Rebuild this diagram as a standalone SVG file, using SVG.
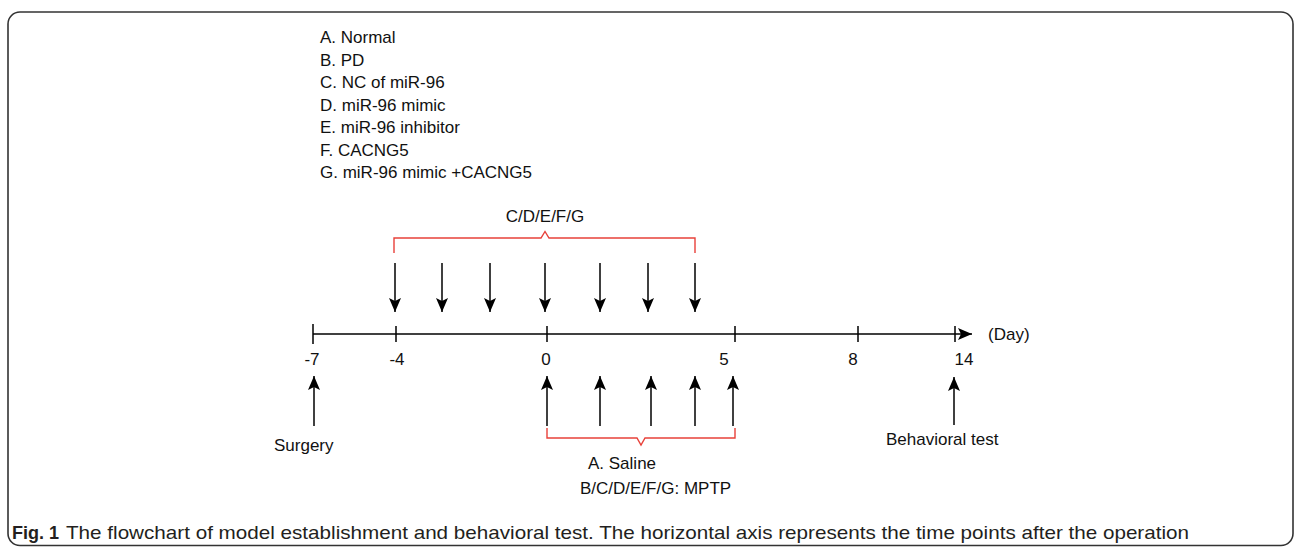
<svg xmlns="http://www.w3.org/2000/svg" width="1295" height="548" viewBox="0 0 1295 548">
<defs>
<style>
text{font-family:"Liberation Sans",Arial,sans-serif;font-size:17px;fill:#111}
.ln{stroke:#000;stroke-width:1.5;fill:none}
.red{stroke:#e8413a;stroke-width:1.4;fill:none}
.cap{font-size:19px;fill:#231f20}
.capb{font-size:18px;font-weight:bold;fill:#231f20}
</style>
<marker id="ah" markerUnits="userSpaceOnUse" viewBox="0 0 14 12" markerWidth="14" markerHeight="12" refX="14" refY="6" orient="auto">
<path d="M0,0 L14,6 L0,12 L3,6 Z" fill="#000"/>
</marker>
</defs>
<rect x="8" y="12" width="1285" height="533.5" rx="12" ry="12" fill="#fff" stroke="#333" stroke-width="1.6"/>

<g id="legend">
<text x="320" y="43">A. Normal</text>
<text x="320" y="65.5">B. PD</text>
<text x="320" y="88">C. NC of miR-96</text>
<text x="320" y="110.5">D. miR-96 mimic</text>
<text x="320" y="133">E. miR-96 inhibitor</text>
<text x="320" y="155.5">F. CACNG5</text>
<text x="320" y="178">G. miR-96 mimic +CACNG5</text>
</g>

<g id="axis">
<line class="ln" x1="313" y1="334" x2="972" y2="334" marker-end="url(#ah)"/>
<path class="ln" d="M313,324V344M396,326V342M547,326V342M735,326V342M858,326V342M955,326V342"/>
<text x="988" y="340">(Day)</text>
<text x="312" y="365" text-anchor="middle">-7</text>
<text x="397" y="365" text-anchor="middle">-4</text>
<text x="546" y="365" text-anchor="middle">0</text>
<text x="724" y="365" text-anchor="middle">5</text>
<text x="853" y="365" text-anchor="middle">8</text>
<text x="964" y="365" text-anchor="middle">14</text>
</g>

<g id="injections-top">
<path class="red" d="M394,253V238H541L545,231.5L549,238H695V253"/>
<text x="545" y="222" text-anchor="middle">C/D/E/F/G</text>
</g>

<g id="saline-mptp">
<path class="red" d="M547,428V438H637L641,445L645,438H735V428"/>
<text x="588" y="469">A. Saline</text>
<text x="580" y="494">B/C/D/E/F/G: MPTP</text>
</g>

<g id="surgery">
<text x="274" y="451">Surgery</text>
</g>

<g id="behavioral">
<text x="886" y="445">Behavioral test</text>
</g>

<g id="connectors">
<line class="ln" x1="395" y1="263" x2="395" y2="312" marker-end="url(#ah)"/>
<line class="ln" x1="442" y1="263" x2="442" y2="312" marker-end="url(#ah)"/>
<line class="ln" x1="490" y1="263" x2="490" y2="312" marker-end="url(#ah)"/>
<line class="ln" x1="545" y1="263" x2="545" y2="312" marker-end="url(#ah)"/>
<line class="ln" x1="600" y1="263" x2="600" y2="312" marker-end="url(#ah)"/>
<line class="ln" x1="648" y1="263" x2="648" y2="312" marker-end="url(#ah)"/>
<line class="ln" x1="695" y1="263" x2="695" y2="312" marker-end="url(#ah)"/>
<line class="ln" x1="314" y1="426" x2="314" y2="376" marker-end="url(#ah)"/>
<line class="ln" x1="547" y1="426" x2="547" y2="376" marker-end="url(#ah)"/>
<line class="ln" x1="600" y1="426" x2="600" y2="376" marker-end="url(#ah)"/>
<line class="ln" x1="651" y1="426" x2="651" y2="376" marker-end="url(#ah)"/>
<line class="ln" x1="695" y1="426" x2="695" y2="376" marker-end="url(#ah)"/>
<line class="ln" x1="733" y1="426" x2="733" y2="376" marker-end="url(#ah)"/>
<line class="ln" x1="954" y1="425" x2="954" y2="377" marker-end="url(#ah)"/>
</g>

<g id="caption">
<text class="capb" x="12" y="539">Fig. 1</text>
<text class="cap" x="66" y="539" textLength="1123" lengthAdjust="spacingAndGlyphs">The flowchart of model establishment and behavioral test. The horizontal axis represents the time points after the operation</text>
</g>
</svg>
